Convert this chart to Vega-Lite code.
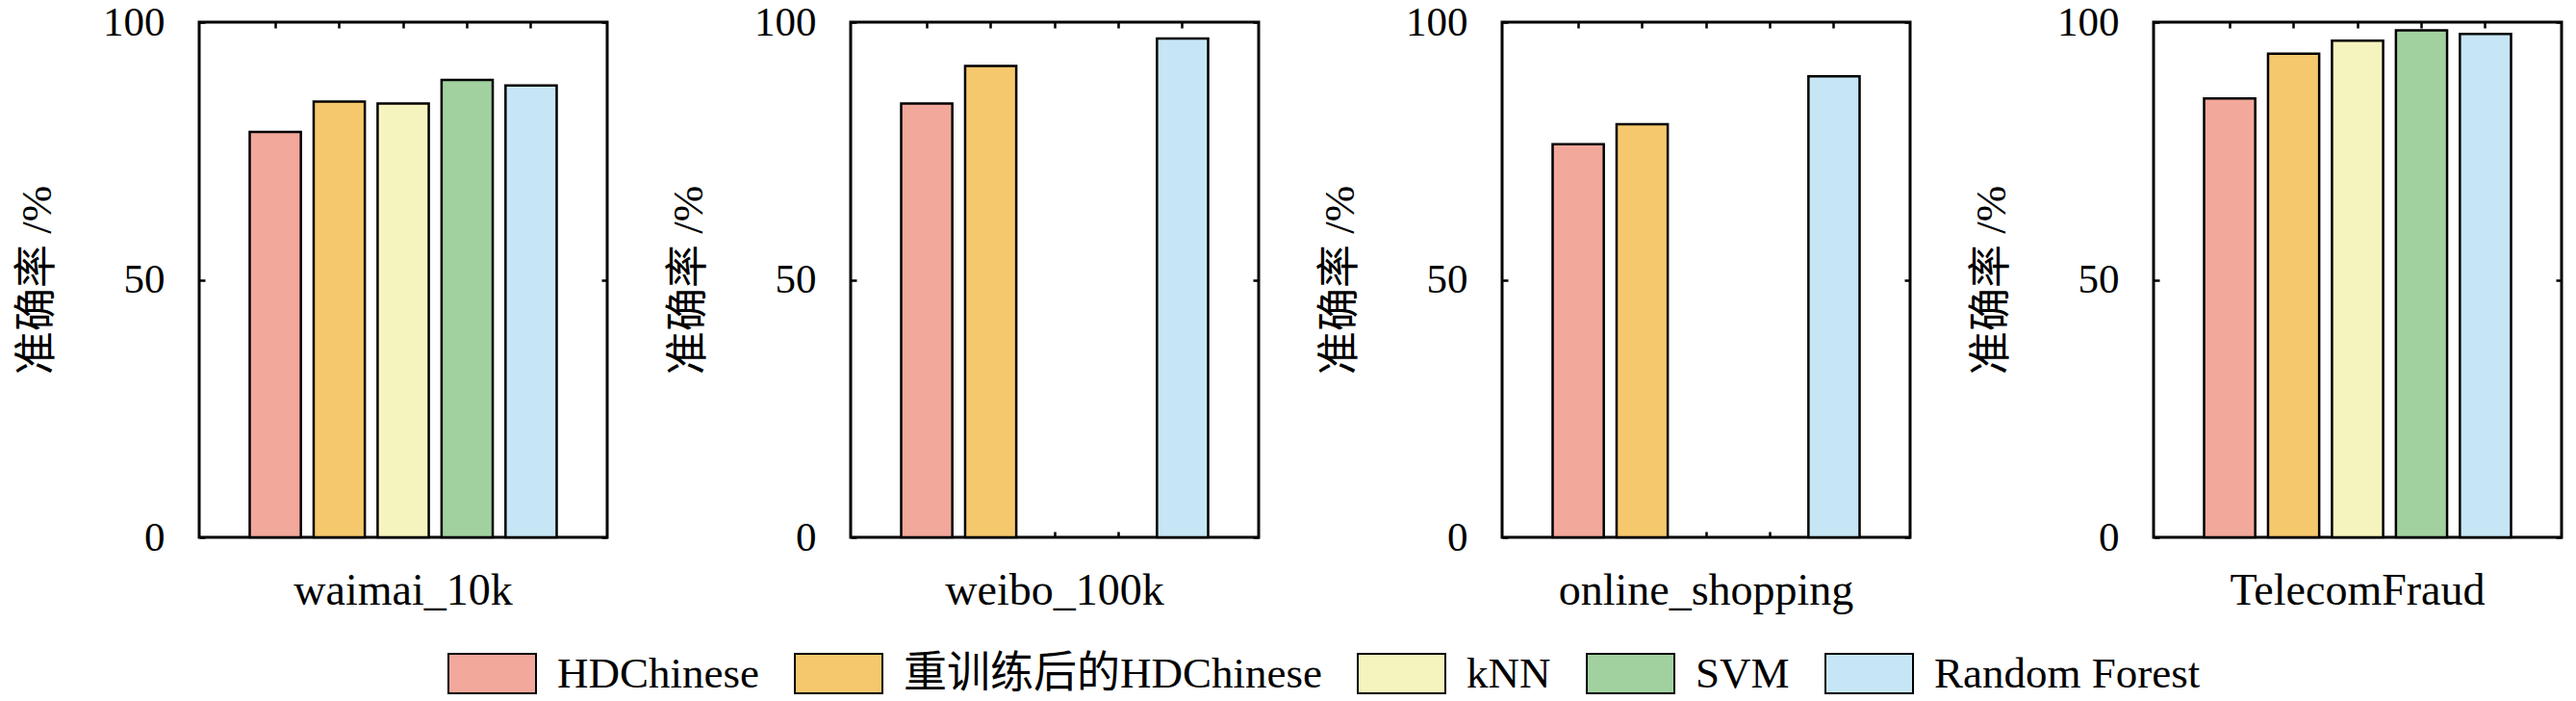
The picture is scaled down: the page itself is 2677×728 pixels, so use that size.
{
  "$schema": "https://vega.github.io/schema/vega-lite/v6.json",
  "background": "white",
  "padding": {"left": 15, "top": 0, "right": 0, "bottom": 0},
  "data": {
    "values": [
      {"dataset": "waimai_10k", "method": "HDChinese", "value": 78.7},
      {"dataset": "waimai_10k", "method": "重训练后的HDChinese", "value": 84.6},
      {"dataset": "waimai_10k", "method": "kNN", "value": 84.2},
      {"dataset": "waimai_10k", "method": "SVM", "value": 88.8},
      {"dataset": "waimai_10k", "method": "Random Forest", "value": 87.7},
      {"dataset": "weibo_100k", "method": "HDChinese", "value": 84.2},
      {"dataset": "weibo_100k", "method": "重训练后的HDChinese", "value": 91.5},
      {"dataset": "weibo_100k", "method": "Random Forest", "value": 96.8},
      {"dataset": "online_shopping", "method": "HDChinese", "value": 76.3},
      {"dataset": "online_shopping", "method": "重训练后的HDChinese", "value": 80.2},
      {"dataset": "online_shopping", "method": "Random Forest", "value": 89.5},
      {"dataset": "TelecomFraud", "method": "HDChinese", "value": 85.2},
      {"dataset": "TelecomFraud", "method": "重训练后的HDChinese", "value": 93.9},
      {"dataset": "TelecomFraud", "method": "kNN", "value": 96.4},
      {"dataset": "TelecomFraud", "method": "SVM", "value": 98.4},
      {"dataset": "TelecomFraud", "method": "Random Forest", "value": 97.7}
    ]
  },
  "facet": {
    "column": {
      "field": "dataset",
      "type": "nominal",
      "sort": ["waimai_10k", "weibo_100k", "online_shopping", "TelecomFraud"],
      "header": {
        "title": null,
        "labelOrient": "bottom",
        "labelFont": "Liberation Serif, serif",
        "labelFontSize": 46,
        "labelColor": "black",
        "labelPadding": 34
      }
    }
  },
  "spacing": 253,
  "bounds": "flush",
  "spec": {
    "width": 424,
    "height": 535,
    "layer": [
      {
        "mark": {"type": "bar", "stroke": "black", "strokeWidth": 2.5},
        "encoding": {
          "x": {
            "field": "method",
            "type": "nominal",
            "scale": {"domain": ["HDChinese", "重训练后的HDChinese", "kNN", "SVM", "Random Forest"], "paddingInner": 0.2, "paddingOuter": 0.79},
            "axis": {"orient": "bottom", "labels": false, "title": null, "domain": false, "tickSize": -6, "tickColor": "black", "tickWidth": 2.5}
          },
          "y": {
            "field": "value",
            "type": "quantitative",
            "scale": {"domain": [0, 100], "nice": false},
            "axis": {
              "orient": "left", "values": [0, 50, 100], "grid": false, "domain": false,
              "tickSize": -6, "tickColor": "black", "tickWidth": 2.5,
              "labelFont": "Liberation Serif, serif", "labelFontSize": 43, "labelColor": "black", "labelPadding": 42,
              "title": "准确率 /%", "titleFont": "Liberation Serif, Noto Sans CJK SC, serif", "titleFontSize": 45,
              "titleFontWeight": "normal", "titleColor": "black", "titlePadding": 45
            }
          },
          "color": {
            "field": "method",
            "type": "nominal",
            "scale": {
              "domain": ["HDChinese", "重训练后的HDChinese", "kNN", "SVM", "Random Forest"],
              "range": ["#F2A89B", "#F6C86E", "#F6F4BE", "#A2D1A0", "#C6E6F6"]
            },
            "legend": {
              "orient": "none",
              "legendX": 258,
              "legendY": 630,
              "direction": "horizontal",
              "title": null,
              "symbolType": "M-1,-0.45H1V0.45H-1Z",
              "symbolSize": 8281,
              "symbolStrokeColor": "black",
              "symbolStrokeWidth": 2,
              "symbolOpacity": 1,
              "labelFont": "Liberation Serif, Noto Sans CJK SC, serif",
              "labelFontSize": 45,
              "labelColor": "black",
              "labelOffset": 21,
              "labelLimit": 1000,
              "columnPadding": 33
            }
          }
        }
      },
      {
        "mark": {"type": "bar", "opacity": 0},
        "encoding": {
          "x": {
            "field": "method",
            "type": "nominal",
            "scale": {"domain": ["HDChinese", "重训练后的HDChinese", "kNN", "SVM", "Random Forest"], "paddingInner": 0.2, "paddingOuter": 0.79},
            "axis": {"orient": "top", "labels": false, "title": null, "domain": false, "tickSize": -6, "tickColor": "black", "tickWidth": 2.5}
          },
          "y": {
            "field": "value",
            "type": "quantitative",
            "scale": {"domain": [0, 100], "nice": false},
            "axis": {"orient": "right", "values": [0, 50, 100], "labels": false, "title": null, "grid": false, "domain": false, "tickSize": -6, "tickColor": "black", "tickWidth": 2.5}
          }
        }
      }
    ],
    "resolve": {"axis": {"x": "independent", "y": "independent"}}
  },
  "resolve": {"axis": {"x": "independent", "y": "independent"}},
  "config": {
    "view": {"stroke": "black", "strokeWidth": 3}
  }
}
